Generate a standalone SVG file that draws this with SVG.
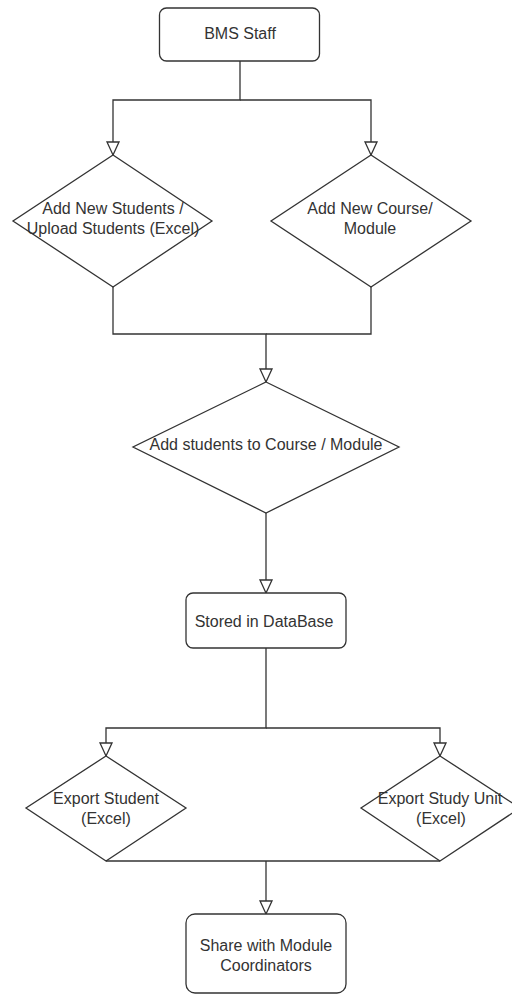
<svg xmlns="http://www.w3.org/2000/svg" width="512" height="994" viewBox="0 0 512 994">
<style>
.n{fill:#fff;stroke:#333;stroke-width:1.3}
.c{fill:none;stroke:#333;stroke-width:1.3}
text{font-family:"Liberation Sans",Arial,sans-serif;font-size:16px;fill:#333;text-anchor:middle}
</style>
<defs>
<marker id="ah" markerUnits="userSpaceOnUse" markerWidth="16" markerHeight="14" viewBox="0 0 16 14" refX="14" refY="7" orient="auto" overflow="visible">
<path d="M1,1 L14,7 L1,13 Z" fill="#fff" stroke="#333" stroke-width="1.3"/>
</marker>
</defs>
<rect width="512" height="994" fill="#fff"/>
<g id="connectors">
<path class="c" d="M240,61 V100 H113 V155" marker-end="url(#ah)"/>
<path class="c" d="M240,100 H371 V155" marker-end="url(#ah)"/>
<path class="c" d="M113,287 V334 H266 V382" marker-end="url(#ah)"/>
<path class="c" d="M371,287 V334 H266"/>
<path class="c" d="M266,513 V593" marker-end="url(#ah)"/>
<path class="c" d="M266,648 V728 H106 V756" marker-end="url(#ah)"/>
<path class="c" d="M266,728 H440 V756" marker-end="url(#ah)"/>
<path class="c" d="M106,861 H440"/>
<path class="c" d="M266,861 V914" marker-end="url(#ah)"/>
</g>
<g id="bms-staff">
<rect class="n" x="159.5" y="8" width="160" height="53" rx="7"/>
<text x="240" y="39">BMS Staff</text>
</g>
<g id="add-students">
<path class="n" d="M113,155 L212,221 L113,287 L13,221 Z"/>
<text x="113" y="214">Add New Students /</text>
<text x="113" y="234">Upload Students (Excel)</text>
</g>
<g id="add-course">
<path class="n" d="M371,155 L471,221 L371,287 L271,221 Z"/>
<text x="370" y="214">Add New Course/</text>
<text x="370" y="234">Module</text>
</g>
<g id="add-to-course">
<path class="n" d="M266,382 L399,447 L266,513 L133,447 Z"/>
<text x="266" y="450">Add students to Course / Module</text>
</g>
<g id="stored-db">
<rect class="n" x="186" y="593" width="160" height="55" rx="7"/>
<text x="264" y="627">Stored in DataBase</text>
</g>
<g id="export-student">
<path class="n" d="M106,756 L186,808 L106,861 L26,808 Z"/>
<text x="106" y="804">Export Student</text>
<text x="106" y="824">(Excel)</text>
</g>
<g id="export-study-unit">
<path class="n" d="M440,756 L520,808 L440,861 L361,808 Z"/>
<text x="440" y="804">Export Study Unit</text>
<text x="441" y="824">(Excel)</text>
</g>
<g id="share">
<rect class="n" x="186" y="914" width="160" height="79" rx="9"/>
<text x="266" y="951">Share with Module</text>
<text x="266" y="971">Coordinators</text>
</g>
</svg>
